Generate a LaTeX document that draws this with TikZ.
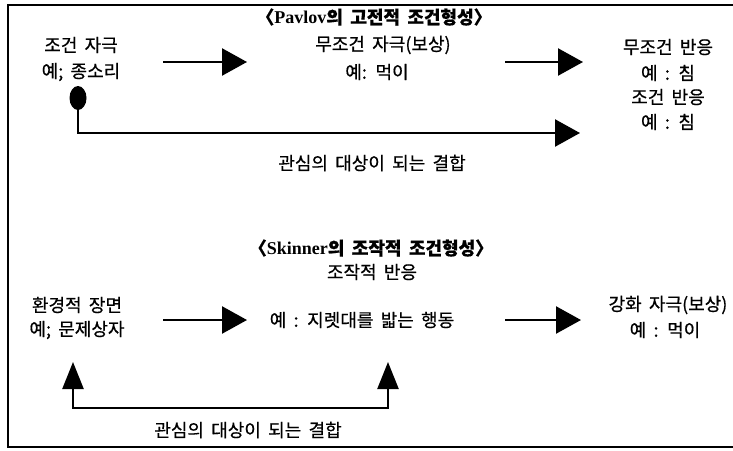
\documentclass[tikz,border=0pt]{standalone}
\usepackage{fontspec}
\setmainfont{Noto Sans CJK KR}[WordSpace=1.8, FakeBold=0.6]
\newfontfamily\latinb{Liberation Serif}
\usetikzlibrary{arrows.meta,shapes.geometric}
\begin{document}
\begin{tikzpicture}[x=1pt,y=-1pt,
  lbl/.style={font=\fontsize{18}{20}\selectfont, inner sep=0pt},
  ttl/.style={font=\fontsize{18}{20}\selectfont\bfseries, inner sep=0pt},
  conn/.style={line width=2.4pt, line join=miter, -{Triangle[length=25pt,width=27pt]}},
  upconn/.style={line width=2.4pt, line join=miter, {Triangle[length=27pt,width=21pt]}-{Triangle[length=27pt,width=21pt]}},
  frame/.style={line width=1.5pt}
  ]
\useasboundingbox (0,0) rectangle (733,450);
\draw[frame] (733,5) -- (8,5) -- (8,447) -- (733,447);

% Pavlov
\node[ttl] (t1) at (374,17) {〈{\latinb Pavlov}의 고전적 조건형성〉};
\node[lbl] (cs) at (81,45) {조건 자극};
\node[lbl] (csex) at (81,72) {예; 종소리};
\node[lbl] (us) at (383,45) {무조건 자극(보상)};
\node[lbl] (usex) at (377,72) {예: 먹이};
\node[lbl] (ur) at (668,47) {무조건 반응};
\node[lbl] (urex) at (668,73) {예 : 침};
\node[lbl] (cr) at (668,97) {조건 반응};
\node[lbl] (crex) at (668,122) {예 : 침};
\node[lbl] (link1) at (372,163) {관심의 대상이 되는 결합};
\node[ellipse, fill=black, minimum width=17pt, minimum height=24pt, inner sep=0pt] (dot) at (78,98) {};

\coordinate (a1s) at (163,62);
\coordinate (a1e) at (247,62);
\coordinate (a2s) at (505,62);
\coordinate (a2e) at (583,62);
\coordinate (a3e) at (580,133);
\draw[conn] (a1s) -- (a1e);
\draw[conn] (a2s) -- (a2e);
\draw[conn] (dot.south) |- (a3e);

% Skinner
\node[ttl] (t2) at (371,248) {〈{\latinb Skinner}의 조작적 조건형성〉};
\node[lbl] (or) at (372,272) {조작적 반응};
\node[lbl] (es) at (77,305) {환경적 장면};
\node[lbl] (esex) at (77,330) {예; 문제상자};
\node[lbl] (orex) at (362,320) {예 : 지렛대를 밟는 행동};
\node[lbl] (rs) at (668,305) {강화 자극(보상)};
\node[lbl] (rsex) at (665,330) {예 : 먹이};
\node[lbl] (link2) at (248,430) {관심의 대상이 되는 결합};

\coordinate (b1s) at (163,320);
\coordinate (b1e) at (247,320);
\coordinate (b2s) at (505,320);
\coordinate (b2e) at (581,320);
\draw[conn] (b1s) -- (b1e);
\draw[conn] (b2s) -- (b2e);

\coordinate (u1) at (73,362);
\coordinate (u2) at (388,362);
\coordinate (c1) at (73,408);
\coordinate (c2) at (388,408);
\draw[upconn] (u1) -- (c1) -- (c2) -- (u2);
\end{tikzpicture}
\end{document}
